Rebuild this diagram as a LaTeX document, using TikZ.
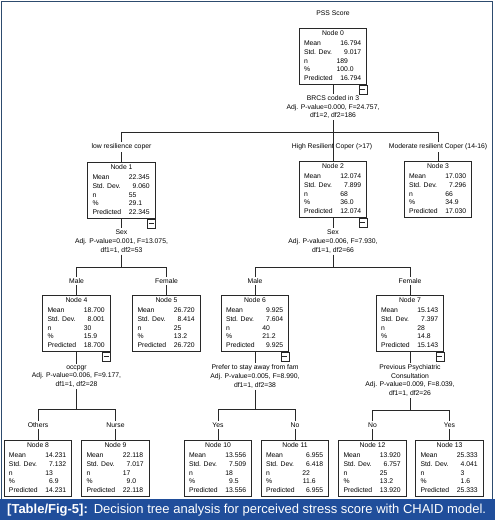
\documentclass[tikz,border=0pt]{standalone}
\usepackage{fontspec}
\setmainfont{Liberation Sans}
\usetikzlibrary{calc}
\definecolor{framec}{RGB}{45,75,110}
\definecolor{capbar}{RGB}{32,78,155}
\definecolor{linec}{RGB}{40,40,40}
\newcommand{\dv}[2]{\makebox[9pt][r]{#1}\makebox[14pt][l]{#2}}
\newcommand{\statbody}[6]{%
 \begin{tabular}{@{}p{35pt}@{}l@{}}
 \multicolumn{2}{@{}c@{}}{Node #1}\\[1.4pt]
 Mean & #2\\ Std. Dev. & #3\\ n & #4\\ \% & #5\\ Predicted & #6
 \end{tabular}}
\tikzset{
 tree/.style={font=\fontsize{6.8}{8.6}\selectfont},
 statbox/.style={draw=linec, line width=0.7pt, fill=white, inner sep=0pt, minimum width=67.5pt, minimum height=56pt, anchor=north},
 splittext/.style={align=center, inner sep=1.5pt},
 edgelabel/.style={fill=white, inner sep=1.5pt},
 conn/.style={draw=linec, line width=0.7pt},
 collapse/.style={draw=linec, line width=0.6pt, fill=white, minimum width=8pt, minimum height=9pt, inner sep=0pt, anchor=north east,
   path picture={\draw[line width=0.6pt] ([xshift=1.6pt]path picture bounding box.west) -- ([xshift=-1.6pt]path picture bounding box.east);}},
}
\begin{document}
\begin{tikzpicture}[x=1pt,y=-1pt]
\useasboundingbox (0,0) rectangle (497,526);
\fill[white] (0,0) rectangle (497,526);
% frame and caption
\draw[framec, line width=1pt] (1.7,2) rectangle (492.5,499);
\fill[capbar] (0,499) rectangle (495,520);
\node[anchor=base west, text=white, font=\fontsize{13}{15}\selectfont, inner sep=0pt] (cap) at (7,513)
  {\textbf{[Table/Fig-5]:}\hspace{6pt}Decision tree analysis for perceived stress score with CHAID model.};

\begin{scope}[tree]
\node (title) at (333,13) {PSS Score};

% nodes
\node[statbox] (n0) at (333,28) {\statbody{0}{\dv{16}{.794}}{\dv{9}{.017}}{\dv{189}{}}{\dv{100}{.0}}{\dv{16}{.794}}};
\node[statbox] (n1) at (121.5,162) {\statbody{1}{\dv{22}{.345}}{\dv{9}{.060}}{\dv{55}{}}{\dv{29}{.1}}{\dv{22}{.345}}};
\node[statbox] (n2) at (333,161) {\statbody{2}{\dv{12}{.074}}{\dv{7}{.899}}{\dv{68}{}}{\dv{36}{.0}}{\dv{12}{.074}}};
\node[statbox] (n3) at (438,161) {\statbody{3}{\dv{17}{.030}}{\dv{7}{.296}}{\dv{66}{}}{\dv{34}{.9}}{\dv{17}{.030}}};
\node[statbox] (n4) at (76.5,295) {\statbody{4}{\dv{18}{.700}}{\dv{8}{.001}}{\dv{30}{}}{\dv{15}{.9}}{\dv{18}{.700}}};
\node[statbox] (n5) at (166.5,295) {\statbody{5}{\dv{26}{.720}}{\dv{8}{.414}}{\dv{25}{}}{\dv{13}{.2}}{\dv{26}{.720}}};
\node[statbox] (n6) at (255,295) {\statbody{6}{\dv{9}{.925}}{\dv{7}{.604}}{\dv{40}{}}{\dv{21}{.2}}{\dv{9}{.925}}};
\node[statbox] (n7) at (410,295) {\statbody{7}{\dv{15}{.143}}{\dv{7}{.397}}{\dv{28}{}}{\dv{14}{.8}}{\dv{15}{.143}}};
\node[statbox] (n8) at (38,440) {\statbody{8}{\dv{14}{.231}}{\dv{7}{.132}}{\dv{13}{}}{\dv{6}{.9}}{\dv{14}{.231}}};
\node[statbox] (n9) at (115.5,440) {\statbody{9}{\dv{22}{.118}}{\dv{7}{.017}}{\dv{17}{}}{\dv{9}{.0}}{\dv{22}{.118}}};
\node[statbox] (n10) at (218,440) {\statbody{10}{\dv{13}{.556}}{\dv{7}{.509}}{\dv{18}{}}{\dv{9}{.5}}{\dv{13}{.556}}};
\node[statbox] (n11) at (295,440) {\statbody{11}{\dv{6}{.955}}{\dv{6}{.418}}{\dv{22}{}}{\dv{11}{.6}}{\dv{6}{.955}}};
\node[statbox] (n12) at (372.5,440) {\statbody{12}{\dv{13}{.920}}{\dv{6}{.757}}{\dv{25}{}}{\dv{13}{.2}}{\dv{13}{.920}}};
\node[statbox] (n13) at (449.5,440) {\statbody{13}{\dv{25}{.333}}{\dv{4}{.041}}{\dv{3}{}}{\dv{1}{.6}}{\dv{25}{.333}}};

% collapse boxes
\foreach \k in {0,1,2,4,6,7} { \node[collapse] (c\k) at (n\k.south east) {}; }

% split texts
\node[splittext] (s0) at (333,107) {BRCS coded in 3\\Adj. P-value=0.000, F=24.757,\\df1=2, df2=186};
\node[splittext] (s1) at (121.5,241.5) {Sex\\Adj. P-value=0.001, F=13.075,\\df1=1, df2=53};
\node[splittext] (s2) at (333,241.5) {Sex\\Adj. P-value=0.006, F=7.930,\\df1=1, df2=66};
\node[splittext] (s4) at (76.5,376.5) {occpgr\\Adj. P-value=0.006, F=9.177,\\df1=1, df2=28};
\node[splittext] (s6) at (255,376.5) {Prefer to stay away from fam\\Adj. P-value=0.005, F=8.990,\\df1=1, df2=38};
\node[splittext] (s7) at (410,380.5) {Previous Psychiatric\\Consultation\\Adj. P-value=0.009, F=8.039,\\df1=1, df2=26};

% bar coordinates
\coordinate (b0) at (333,132);
\coordinate (b1) at (121.5,267);
\coordinate (b2) at (333,267);
\coordinate (b4) at (76.5,409);
\coordinate (b6) at (255,409);
\coordinate (b7) at (410,410);

% connectors
\foreach \p/\s in {n0/s0,n1/s1,n2/s2,n4/s4,n6/s6,n7/s7} { \draw[conn] (\p.south) -- (\s.north); }
\draw[conn] (s0.south) -- (b0);
\draw[conn] (n1.north |- b0) -- (n3.north |- b0);
\foreach \c in {n1,n2,n3} { \draw[conn] (\c.north |- b0) -- (\c.north); }
\draw[conn] (s1.south) -- (b1);
\draw[conn] (n4.north |- b1) -- (n5.north |- b1);
\foreach \c in {n4,n5} { \draw[conn] (\c.north |- b1) -- (\c.north); }
\draw[conn] (s2.south) -- (b2);
\draw[conn] (n6.north |- b2) -- (n7.north |- b2);
\foreach \c in {n6,n7} { \draw[conn] (\c.north |- b2) -- (\c.north); }
\draw[conn] (s4.south) -- (b4);
\draw[conn] (n8.north |- b4) -- (n9.north |- b4);
\foreach \c in {n8,n9} { \draw[conn] (\c.north |- b4) -- (\c.north); }
\draw[conn] (s6.south) -- (b6);
\draw[conn] (n10.north |- b6) -- (n11.north |- b6);
\foreach \c in {n10,n11} { \draw[conn] (\c.north |- b6) -- (\c.north); }
\draw[conn] (s7.south) -- (b7);
\draw[conn] (n12.north |- b7) -- (n13.north |- b7);
\foreach \c in {n12,n13} { \draw[conn] (\c.north |- b7) -- (\c.north); }

% edge labels
\node[edgelabel] (l1) at (121.5,147) {low resilience coper};
\node[inner sep=1.5pt] (l2) at (332,147) {High Resilient Coper (>17)};
\node[edgelabel] (l3) at (438,147) {Moderate resilient Coper (14-16)};
\node[edgelabel] (l4) at (76.5,281) {Male};
\node[edgelabel] (l5) at (166.5,281) {Female};
\node[edgelabel] (l6) at (255,281) {Male};
\node[edgelabel] (l7) at (410,281) {Female};
\node[edgelabel] (l8) at (38,425) {Others};
\node[edgelabel] (l9) at (115.5,425) {Nurse};
\node[edgelabel] (l10) at (218,425) {Yes};
\node[edgelabel] (l11) at (295,425) {No};
\node[edgelabel] (l12) at (372.5,425) {No};
\node[edgelabel] (l13) at (449.5,425) {Yes};
\end{scope}
\end{tikzpicture}
\end{document}
